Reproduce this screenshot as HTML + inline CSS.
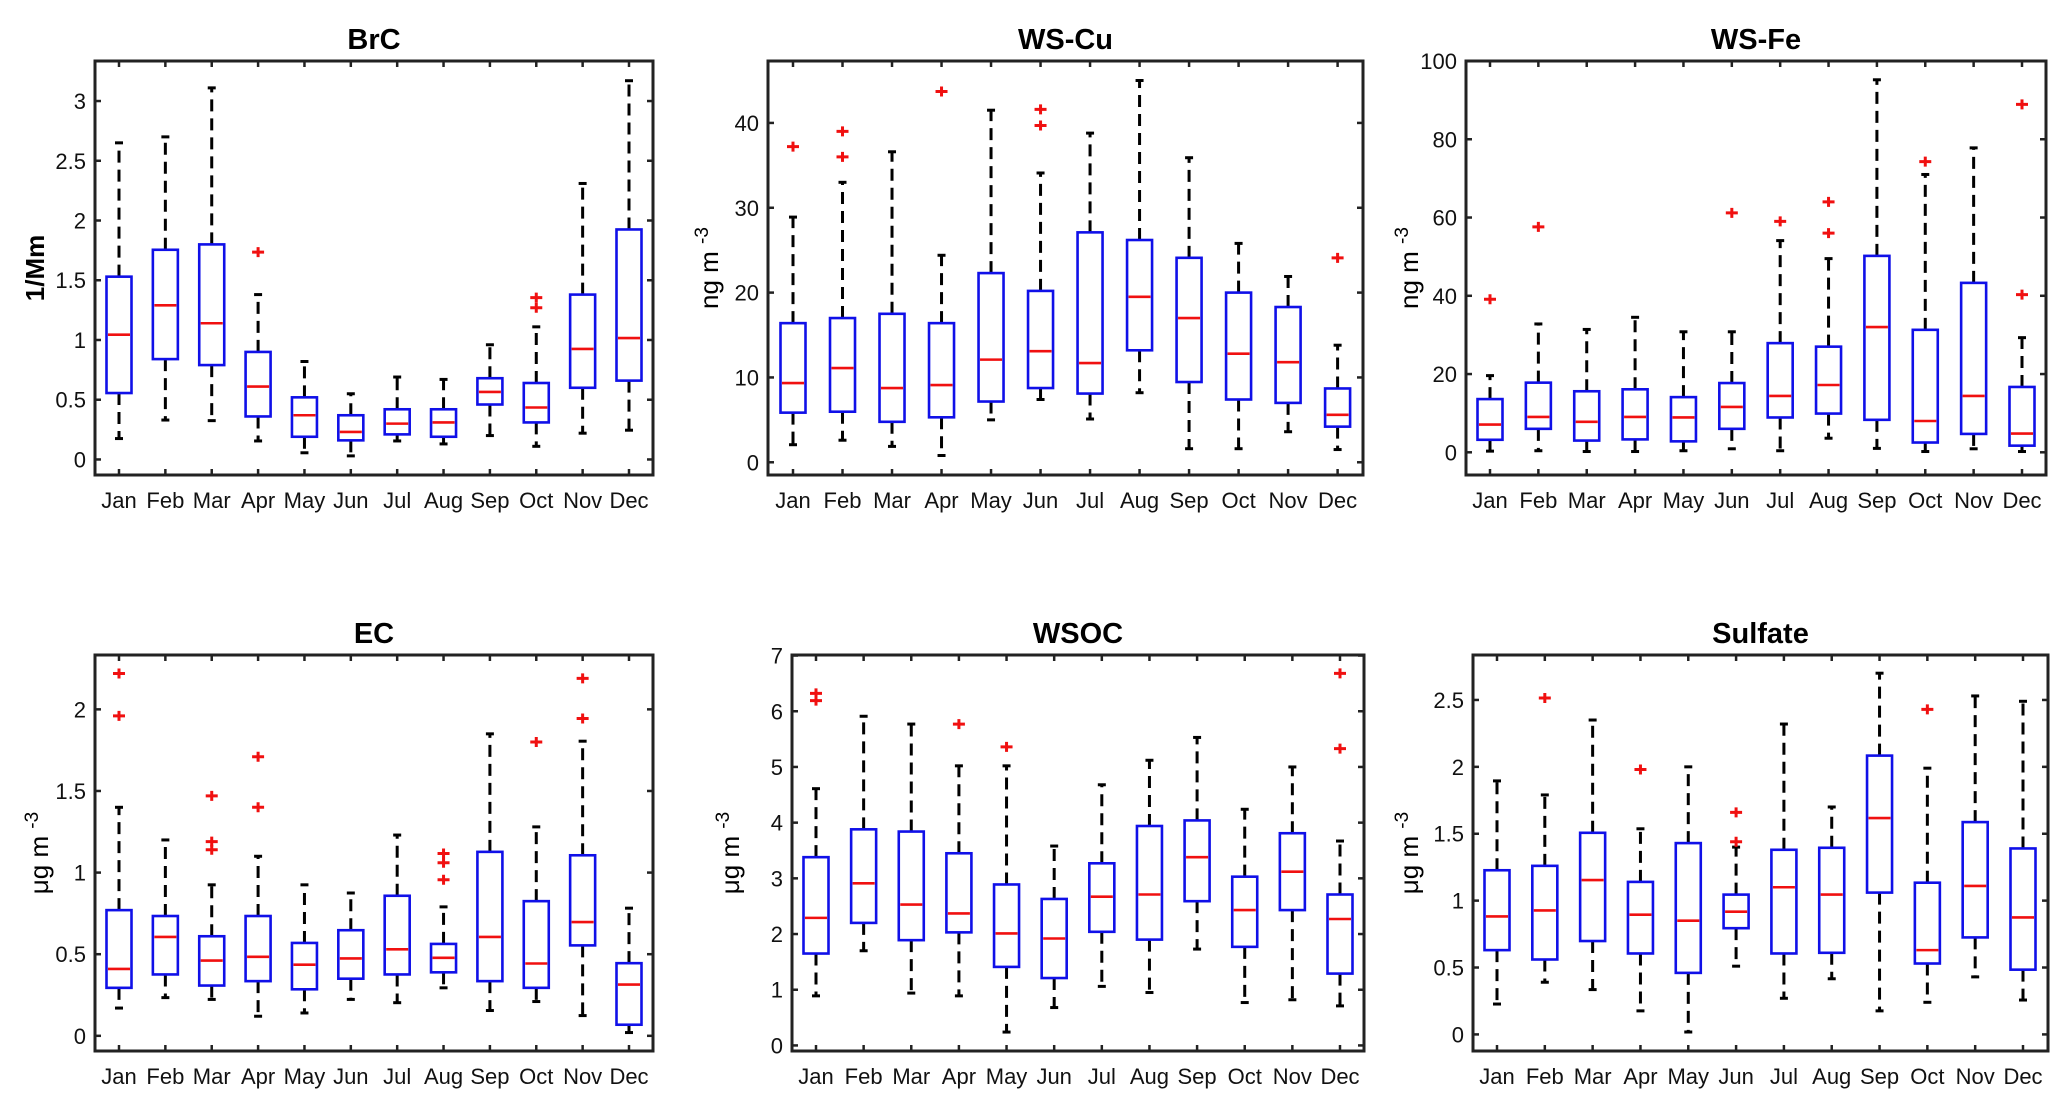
<!DOCTYPE html>
<html><head><meta charset="utf-8"><style>
html,body{margin:0;padding:0;background:#fff;overflow:hidden;}
svg{display:block;font-family:"Liberation Sans",Arial,sans-serif;}
</style></head><body>
<svg id="fig" width="2067" height="1115" viewBox="0 0 2067 1115" xmlns="http://www.w3.org/2000/svg"></svg>
<script>
const months = ["Jan","Feb","Mar","Apr","May","Jun","Jul","Aug","Sep","Oct","Nov","Dec"];

// BrC
const brcLow  = [0.175,0.33,0.325,0.155,0.056,0.03,0.155,0.13,0.20,0.11,0.22,0.245];
const brcQ1   = [0.556,0.84,0.79,0.36,0.19,0.16,0.21,0.19,0.46,0.31,0.60,0.66];
const brcMed  = [1.044,1.29,1.14,0.61,0.37,0.23,0.30,0.31,0.565,0.435,0.925,1.016];
const brcQ3   = [1.53,1.755,1.80,0.90,0.52,0.37,0.42,0.42,0.68,0.64,1.38,1.925];
const brcHigh = [2.65,2.70,3.11,1.38,0.82,0.55,0.69,0.67,0.96,1.11,2.31,3.17];
const brcOut  = [[],[],[],[1.735],[],[],[],[],[],[1.355,1.27],[],[]];
const brcTicks = [0,0.5,1,1.5,2,2.5,3];

// WS-Cu
const cuLow  = [2.07,2.6,1.87,0.8,5.0,7.4,5.1,8.2,1.6,1.6,3.6,1.5];
const cuQ1   = [5.85,5.96,4.77,5.3,7.16,8.75,8.1,13.2,9.46,7.4,7.0,4.2];
const cuMed  = [9.34,11.1,8.75,9.1,12.1,13.1,11.7,19.5,17.0,12.8,11.8,5.6];
const cuQ3   = [16.4,17.0,17.5,16.4,22.3,20.2,27.1,26.2,24.1,20.0,18.3,8.7];
const cuHigh = [28.9,33.0,36.6,24.4,41.5,34.1,38.8,45.0,35.9,25.8,21.9,13.8];
const cuOut  = [[37.2],[39.0,36.0],[],[43.7],[],[41.6,39.7],[],[],[],[],[],[24.1]];
const cuTicks = [0,10,20,30,40];

// WS-Fe
const feLow  = [0.3,0.4,0.2,0.2,0.4,0.9,0.4,3.6,1.0,0.2,0.9,0.2];
const feQ1   = [3.2,6.0,3.0,3.3,2.8,6.0,8.9,9.9,8.3,2.5,4.7,1.7];
const feMed  = [7.1,9.05,7.8,9.05,8.9,11.6,14.4,17.2,32.0,8.0,14.4,4.8];
const feQ3   = [13.6,17.8,15.6,16.1,14.1,17.7,27.9,27.0,50.2,31.3,43.3,16.7];
const feHigh = [19.6,32.8,31.4,34.5,30.8,30.8,54.1,49.5,95.2,71.0,77.8,29.3];
const feOut  = [[39.1],[57.6],[],[],[],[61.2],[59.0],[64.0,56.0],[],[74.3],[],[88.9,40.3]];
const feTicks = [0,20,40,60,80,100];

// EC
const ecLow  = [0.17,0.234,0.223,0.12,0.14,0.223,0.203,0.294,0.155,0.21,0.124,0.02];
const ecQ1   = [0.294,0.376,0.308,0.335,0.285,0.35,0.376,0.389,0.335,0.294,0.554,0.068];
const ecMed  = [0.41,0.606,0.461,0.484,0.436,0.474,0.53,0.478,0.606,0.443,0.697,0.314];
const ecQ3   = [0.77,0.734,0.61,0.734,0.569,0.647,0.858,0.563,1.127,0.825,1.106,0.445];
const ecHigh = [1.40,1.20,0.925,1.10,0.925,0.875,1.23,0.79,1.85,1.28,1.805,0.782];
const ecOut  = [[1.96,2.22],[],[1.47,1.19,1.14],[1.71,1.40],[],[],[],[1.117,1.06,0.956],[],[1.80],[2.19,1.944],[]];
const ecTicks = [0,0.5,1,1.5,2];

// WSOC
const wsocLow  = [0.89,1.70,0.94,0.89,0.24,0.68,1.06,0.95,1.73,0.77,0.82,0.71];
const wsocQ1   = [1.65,2.20,1.89,2.03,1.41,1.21,2.04,1.90,2.59,1.77,2.43,1.29];
const wsocMed  = [2.29,2.91,2.53,2.37,2.01,1.92,2.67,2.71,3.38,2.43,3.12,2.27];
const wsocQ3   = [3.38,3.88,3.84,3.45,2.89,2.63,3.27,3.94,4.04,3.03,3.81,2.71];
const wsocHigh = [4.61,5.91,5.77,5.02,5.02,3.58,4.68,5.12,5.53,4.24,5.00,3.67];
const wsocOut  = [[6.32,6.19],[],[],[5.77],[5.36],[],[],[],[],[],[],[6.68,5.33]];
const wsocTicks = [0,1,2,3,4,5,6,7];

// Sulfate
const so4Low  = [0.227,0.39,0.335,0.176,0.018,0.51,0.27,0.416,0.176,0.24,0.43,0.257];
const so4Q1   = [0.63,0.56,0.698,0.605,0.46,0.794,0.605,0.61,1.06,0.53,0.725,0.484];
const so4Med  = [0.882,0.927,1.154,0.895,0.85,0.917,1.10,1.045,1.617,0.63,1.11,0.874];
const so4Q3   = [1.227,1.26,1.507,1.14,1.43,1.045,1.38,1.395,2.084,1.134,1.587,1.39];
const so4High = [1.895,1.79,2.35,1.537,2.00,1.40,2.32,1.70,2.70,1.99,2.53,2.49];
const so4Out  = [[],[2.515],[],[1.98],[],[1.66,1.44],[],[],[],[2.43],[],[]];
const so4Ticks = [0,0.5,1,1.5,2,2.5];

const NS = "http://www.w3.org/2000/svg";
const fig = document.getElementById("fig");
function mk(tag, attrs, parent){
  const e = document.createElementNS(NS, tag);
  for (const k in attrs) e.setAttribute(k, attrs[k]);
  (parent||fig).appendChild(e);
  return e;
}

function drawPanel(p){
  const g = mk("g", {});
  
  
  const y = v => p.bottom - (v - p.vmin) / (p.vmax - p.vmin) * (p.bottom - p.top);
  const x = i => p.xFirst + i * (p.xLast - p.xFirst) / 11;
  const hw = 12.5;
  const t = mk("text", {x:(p.left+p.right)/2, y:p.top-12, "text-anchor":"middle", "font-size":"29", "font-weight":"bold", fill:"#000"}, g);
  t.textContent = p.title;
  
  
  const yl = mk("text", {transform:`translate(${p.ylabX},${(p.top+p.bottom)/2}) rotate(-90)`, "text-anchor":"middle", "font-size":"26", "font-weight":p.ylabBold?"bold":"normal", fill:"#000"}, g);
  
  
  if (p.ylabSup){
    const a = mk("tspan", {}, yl); a.textContent = p.ylab;
    const b = mk("tspan", {dy:"-10", "font-size":"19"}, yl); b.textContent = p.ylabSup;
  } else yl.textContent = p.ylab;
  p.ticks.forEach(v=>{
    const yy = y(v);
    mk("line",{x1:p.left,x2:p.left+6,y1:yy,y2:yy,stroke:"#222","stroke-width":2.5},g);
    mk("line",{x1:p.right,x2:p.right-6,y1:yy,y2:yy,stroke:"#222","stroke-width":2.5},g);
    const tl = mk("text",{x:p.left-9,y:yy+8,"text-anchor":"end","font-size":"22",fill:"#111"},g);
    tl.textContent = String(v);
    
    
  });
  months.forEach((m,i)=>{
    const xx = x(i);
    mk("line",{x1:xx,x2:xx,y1:p.top,y2:p.top+6,stroke:"#222","stroke-width":2.5},g);
    mk("line",{x1:xx,x2:xx,y1:p.bottom,y2:p.bottom-6,stroke:"#222","stroke-width":2.5},g);
    const tl = mk("text",{x:xx,y:p.bottom+33,"text-anchor":"middle","font-size":"22",fill:"#111"},g);
    tl.textContent = m;
    
    
  });
  months.forEach((m,i)=>{
    const xx = x(i);
    const bg = mk("g",{},g);
    
    
    mk("line",{x1:xx,x2:xx,y1:y(p.q3[i]),y2:y(p.high[i]),stroke:"#000","stroke-width":3,"stroke-dasharray":"12 7"},bg);
    mk("line",{x1:xx,x2:xx,y1:y(p.q1[i]),y2:y(p.low[i]),stroke:"#000","stroke-width":3,"stroke-dasharray":"12 7"},bg);
    mk("line",{x1:xx-4,x2:xx+4,y1:y(p.high[i]),y2:y(p.high[i]),stroke:"#000","stroke-width":3},bg);
    mk("line",{x1:xx-4,x2:xx+4,y1:y(p.low[i]),y2:y(p.low[i]),stroke:"#000","stroke-width":3},bg);
    mk("rect",{x:xx-hw,y:y(p.q3[i]),width:2*hw,height:y(p.q1[i])-y(p.q3[i]),fill:"#fff",stroke:"#1010e8","stroke-width":2.6},bg);
    mk("line",{x1:xx-hw+1.5,x2:xx+hw-1.5,y1:y(p.med[i]),y2:y(p.med[i]),stroke:"#f01010","stroke-width":2.6},bg);
    p.out[i].forEach(v=>{
      const oy = y(v);
      const o = mk("path",{d:`M${xx-6},${oy}H${xx+6}M${xx},${oy-5}V${oy+5}`,stroke:"#f01010","stroke-width":3},bg);
      
      
    });
  });
  const fr = mk("rect",{x:p.left,y:p.top,width:p.right-p.left,height:p.bottom-p.top,fill:"none",stroke:"#222","stroke-width":3},g);
  
  
}

function mkPanel(name,title,left,right,top,bottom,vmin,vmax,xFirst,xLast,ticks,low,q1,med,q3,high,out,ylab,ylabSup,ylabX,ylabBold){
  return {name,title,left,right,top,bottom,vmin,vmax,xFirst,xLast,ticks,low,q1,med,q3,high,out,ylab,ylabSup,ylabX,ylabBold};
}

drawPanel(mkPanel("brc","BrC",95,653,61,475,-0.13,3.335,119,629,brcTicks,brcLow,brcQ1,brcMed,brcQ3,brcHigh,brcOut,"1/Mm","",44,true));
drawPanel(mkPanel("ws-cu","WS-Cu",768,1363,61,475,-1.5,47.3,793,1337.6,cuTicks,cuLow,cuQ1,cuMed,cuQ3,cuHigh,cuOut,"ng m ","-3",718,false));
drawPanel(mkPanel("ws-fe","WS-Fe",1466,2046,61,475,-5.8,100,1490,2022,feTicks,feLow,feQ1,feMed,feQ3,feHigh,feOut,"ng m ","-3",1418,false));
drawPanel(mkPanel("ec","EC",95,653,655,1051,-0.093,2.333,119,629,ecTicks,ecLow,ecQ1,ecMed,ecQ3,ecHigh,ecOut,"μg m ","-3",48,false));
drawPanel(mkPanel("wsoc","WSOC",792,1364,655,1051,-0.1,7.01,816,1340,wsocTicks,wsocLow,wsocQ1,wsocMed,wsocQ3,wsocHigh,wsocOut,"μg m ","-3",739,false));
drawPanel(mkPanel("sulfate","Sulfate",1473,2048,655,1051,-0.124,2.836,1497,2023,so4Ticks,so4Low,so4Q1,so4Med,so4Q3,so4High,so4Out,"μg m ","-3",1418,false));
</script>
</body></html>
